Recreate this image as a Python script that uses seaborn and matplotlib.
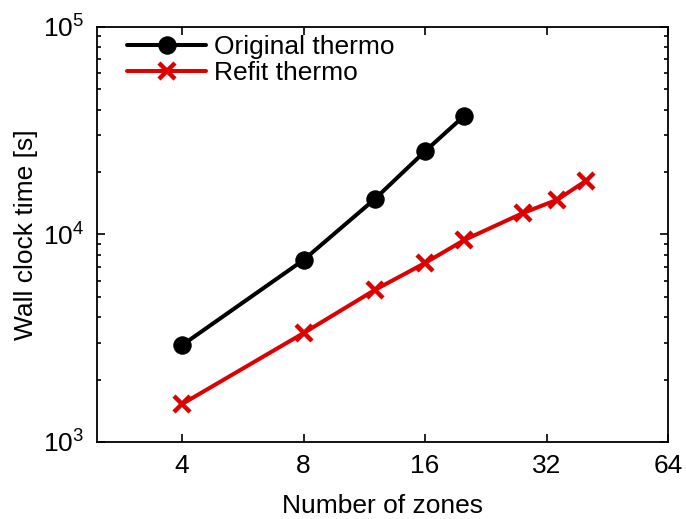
import matplotlib
matplotlib.use("Agg")
import matplotlib.pyplot as plt
import seaborn as sns
import pandas as pd
from matplotlib.ticker import FixedLocator, FixedFormatter, LogLocator, NullLocator

zones_orig = [4, 8, 12, 16, 20]
time_orig = [2930, 7540, 14800, 25200, 37300]
zones_refit = [4, 8, 12, 16, 20, 28, 34, 40]
time_refit = [1525, 3350, 5400, 7290, 9400, 12700, 14700, 18100]
x_ticks = [4, 8, 16, 32, 64]
x_tick_labels = ["4", "8", "16", "32", "64"]

sns.set_style("ticks")
plt.rcParams['font.family'] = ['Liberation Sans', 'DejaVu Sans']
plt.rcParams['mathtext.default'] = 'regular'
plt.rcParams['font.size'] = 19
plt.rcParams['text.color'] = 'black'
plt.rcParams['axes.labelcolor'] = 'black'
plt.rcParams['xtick.color'] = 'black'
plt.rcParams['ytick.color'] = 'black'

df_o = pd.DataFrame({"zones": zones_orig, "time": time_orig})
df_r = pd.DataFrame({"zones": zones_refit, "time": time_refit})

fig = plt.figure(figsize=(6.86, 5.19), dpi=100)
ax = fig.add_axes([0.1414, 0.1484, 0.9738 - 0.1414, 0.948 - 0.1484])

sns.lineplot(data=df_o, x="zones", y="time", ax=ax, color="black", lw=2.9,
             marker="o", markersize=12.5, markeredgecolor="black", label="Original thermo")
sns.lineplot(data=df_r, x="zones", y="time", ax=ax, color="#dd0000", lw=2.9,
             marker="x", markersize=11, markeredgewidth=3.2, markeredgecolor="#dd0000",
             label="Refit thermo")

ax.set_xscale("log", base=2)
ax.set_yscale("log")
ax.set_xlim(2.46, 64)
ax.set_ylim(1e3, 1e5)
ax.xaxis.set_major_locator(FixedLocator(x_ticks))
ax.xaxis.set_major_formatter(FixedFormatter(x_tick_labels))
ax.xaxis.set_minor_locator(NullLocator())
ax.yaxis.set_minor_locator(LogLocator(base=10, subs=range(2, 10)))

for s in ax.spines.values():
    s.set_visible(True)
    s.set_linewidth(1.3)
    s.set_color("black")
ax.tick_params(which="both", direction="in", top=True, right=True, color="black",
               width=1.2, labelsize=19, labelcolor="black")
ax.tick_params(which="major", length=6, pad=9)
ax.tick_params(which="minor", length=3)

ax.set_xlabel("Number of zones", fontsize=19, labelpad=11, color="black")
ax.set_ylabel("Wall clock time [s]", fontsize=19, labelpad=4, color="black")

leg = ax.legend(loc="upper left", frameon=False, handlelength=3.0, handletextpad=0.3,
                labelspacing=0.05, fontsize=19, borderaxespad=0.0,
                bbox_to_anchor=(0.034, 1.005))
for t in leg.get_texts():
    t.set_color("black")

fig.savefig("out.png", dpi=100)
